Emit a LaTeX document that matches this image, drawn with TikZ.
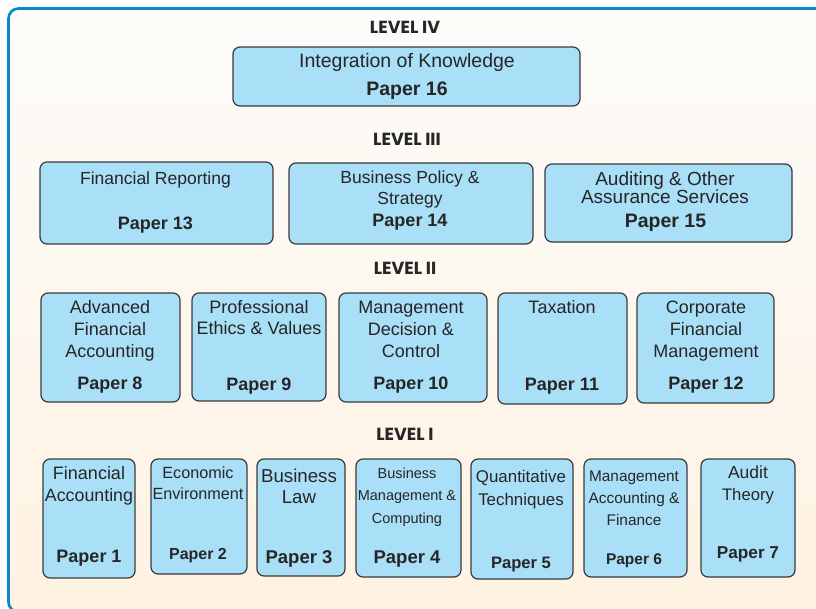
\documentclass[tikz,border=0pt]{standalone}
\usepackage{fontspec}
\setmainfont{Liberation Sans}
\newfontfamily\lvlfont{Poppins}
\usetikzlibrary{fit}
\definecolor{framecol}{HTML}{0A86CC}
\definecolor{bgtop}{HTML}{FDFCFA}
\definecolor{bgbot}{HTML}{FEF2E2}
\definecolor{boxfill}{HTML}{AADFF8}
\definecolor{boxline}{HTML}{3A3A3A}
\definecolor{txtcol}{HTML}{262626}
\tikzset{
  paperbox/.style={draw=boxline, fill=boxfill, line width=1.2pt, rounded corners=7pt, inner sep=0pt},
  txt/.style={text=txtcol, inner sep=0pt, anchor=base},
  lvl/.style={text=txtcol, inner sep=0pt, anchor=base, font=\lvlfont\bfseries\fontsize{17.5}{17.5}\selectfont}
}
% name, x, y(center), size, text
\newcommand\tl[5]{%
  \pgfmathsetmacro\tlbase{#3+0.33*#4}%
  \node[txt, font=\fontsize{#4}{#4}\selectfont] (#1) at (#2,\tlbase) {#5};}
\newcommand\tb[5]{%
  \pgfmathsetmacro\tlbase{#3+0.33*#4}%
  \node[txt, font=\bfseries\fontsize{#4}{#4}\selectfont] (#1) at (#2,\tlbase) {#5};}
\newcommand\pbox[5]{\node[paperbox, fit={(#2,#3) (#4,#5)}] (#1) {};}
\begin{document}
\begin{tikzpicture}[x=1pt, y=-1pt]
\useasboundingbox (0,0) rectangle (816,608);
\clip (0,0) rectangle (816,608);
\fill[white] (0,0) rectangle (816,608);
\shade[top color=bgtop, bottom color=bgbot, rounded corners=10pt] (8.5,8.5) rectangle (840,612);
\draw[framecol, line width=2.6pt, rounded corners=10pt] (8.5,8.5) rectangle (840,612);

% level labels
\node[lvl] (l4) at (405,33) {LEVEL IV};
\node[lvl] (l3) at (407,145) {LEVEL III};
\node[lvl] (l2) at (405,274) {LEVEL II};
\node[lvl] (l1) at (405,440) {LEVEL I};

% level IV
\pbox{b16}{233}{47}{580}{106}
\tl{t16a}{407}{61}{19.5}{Integration of Knowledge}
\tb{t16b}{407}{89}{19.5}{Paper 16}

% level III
\pbox{b13}{40}{162}{273}{244}
\tl{t13a}{155.5}{179}{17.5}{Financial Reporting}
\tb{t13b}{155.5}{224}{18}{Paper 13}

\pbox{b14}{289}{163}{533}{244}
\tl{t14a}{410}{178}{17.5}{Business Policy \&}
\tl{t14b}{410}{199}{17.5}{Strategy}
\tb{t14c}{410}{221}{18}{Paper 14}

\pbox{b15}{545}{164}{792}{242}
\tl{t15a}{665}{179}{19}{Auditing \& Other}
\tl{t15b}{665}{197}{19}{Assurance Services}
\tb{t15c}{665.5}{221}{19.5}{Paper 15}

% level II
\pbox{b8}{41}{293}{180}{402}
\tl{t8a}{110}{308}{18}{Advanced}
\tl{t8b}{110}{330}{18}{Financial}
\tl{t8c}{110}{352}{18}{Accounting}
\tb{t8d}{110}{384}{18}{Paper 8}

\pbox{b9}{192}{293}{326}{401}
\tl{t9a}{259}{308}{18}{Professional}
\tl{t9b}{259}{329}{18}{Ethics \& Values}
\tb{t9c}{259}{385}{18}{Paper 9}

\pbox{b10}{339}{293}{487}{402}
\tl{t10a}{411}{308}{18}{Management}
\tl{t10b}{411}{330}{18}{Decision \&}
\tl{t10c}{411}{352}{18}{Control}
\tb{t10d}{411}{384}{18}{Paper 10}

\pbox{b11}{498}{293}{627}{404}
\tl{t11a}{562}{308}{18}{Taxation}
\tb{t11b}{562}{385}{18}{Paper 11}

\pbox{b12}{637}{293}{774}{403}
\tl{t12a}{706}{308}{18}{Corporate}
\tl{t12b}{706}{330}{18}{Financial}
\tl{t12c}{706}{352}{18}{Management}
\tb{t12d}{706}{384}{18}{Paper 12}

% level I
\pbox{b1}{43}{459}{135}{578}
\tl{t1a}{89}{474}{18}{Financial}
\tl{t1b}{89}{496}{17.8}{Accounting}
\tb{t1c}{89}{557}{18}{Paper 1}

\pbox{b2}{151}{459}{247}{574}
\tl{t2a}{198}{473}{16.2}{Economic}
\tl{t2b}{198}{494}{16.2}{Environment}
\tb{t2c}{198}{554}{16}{Paper 2}

\pbox{b3}{257}{459}{345}{576}
\tl{t3a}{299}{476}{18.7}{Business}
\tl{t3b}{299}{497}{18.7}{Law}
\tb{t3c}{299}{557}{18.5}{Paper 3}

\pbox{b4}{356}{459}{461}{577}
\tl{t4a}{407}{474}{14.5}{Business}
\tl{t4b}{407}{496}{14.5}{Management \&}
\tl{t4c}{407}{519}{14.5}{Computing}
\tb{t4d}{407}{557}{18.5}{Paper 4}

\pbox{b5}{471}{459}{573}{579}
\tl{t5a}{521}{477}{16.9}{Quantitative}
\tl{t5b}{521}{500}{16.9}{Techniques}
\tb{t5c}{521}{563}{16.6}{Paper 5}

\pbox{b6}{584}{459}{687}{577}
\tl{t6a}{634}{476}{15.4}{Management}
\tl{t6b}{634}{498}{15.4}{Accounting \&}
\tl{t6c}{634}{520}{15.4}{Finance}
\tb{t6d}{634}{559}{15.5}{Paper 6}

\pbox{b7}{701}{459}{795}{577}
\tl{t7a}{748}{473}{17.5}{Audit}
\tl{t7b}{748}{495}{16.7}{Theory}
\tb{t7c}{748}{553}{17.2}{Paper 7}
\end{tikzpicture}
\end{document}
